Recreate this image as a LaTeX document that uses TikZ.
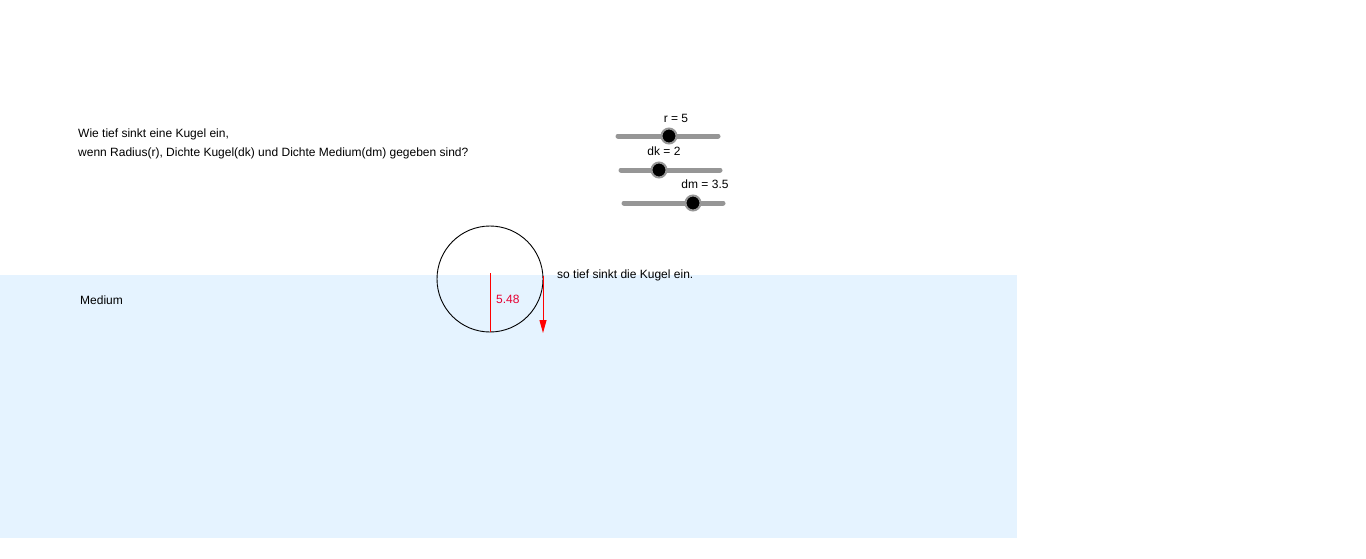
\documentclass[tikz,border=0pt]{standalone}
\usepackage{fontspec}
\setmainfont{Liberation Sans}
\usetikzlibrary{arrows.meta}
\definecolor{water}{RGB}{229,243,255}
\definecolor{track}{RGB}{150,150,150}
\definecolor{redl}{RGB}{255,0,0}
\definecolor{lbl}{RGB}{230,0,50}
\tikzset{
  txt/.style={font=\fontsize{12}{14}\selectfont, inner sep=0pt},
  track/.style={draw=track, line width=5pt, line cap=round},
  knob/.style={circle, fill=black, draw=track, line width=2pt, minimum size=15pt, inner sep=0pt}
}
\begin{document}
\begin{tikzpicture}[x=1pt,y=-1pt]
\useasboundingbox (0,0) rectangle (1366,558);
\fill[water] (0,275) rectangle (1017,538);
\node[txt, anchor=base west] (q1) at (78,137) {Wie tief sinkt eine Kugel ein,};
\node[txt, anchor=base west] (q2) at (78,156) {wenn Radius(r), Dichte Kugel(dk) und Dichte Medium(dm) gegeben sind?};
\node[txt, anchor=base west] (med) at (80,304) {Medium};
\node[txt, anchor=base west] (so) at (557,278) {so tief sinkt die Kugel ein.};
% sliders
\coordinate (a1) at (618,136); \coordinate (b1) at (718,136);
\coordinate (a2) at (621,170); \coordinate (b2) at (720,170);
\coordinate (a3) at (624,203); \coordinate (b3) at (723,203);
\draw[track] (a1) -- (b1);
\draw[track] (a2) -- (b2);
\draw[track] (a3) -- (b3);
\node[knob] (k1) at (669,136) {};
\node[knob] (k2) at (659,170) {};
\node[knob] (k3) at (693,203) {};
\node[txt, anchor=base] (l1) at (676,122) {r = 5};
\node[txt, anchor=base] (l2) at (664,155) {dk = 2};
\node[txt, anchor=base] (l3) at (705,188) {dm = 3.5};
% sphere
\node[circle, draw=black, line width=0.9pt, minimum size=106pt, inner sep=0pt] (c) at (490,279) {};
\coordinate (t) at (490,273); \coordinate (bt) at (490,332);
\draw[redl, line width=1pt] (t) -- (bt);
\node[txt, text=lbl, anchor=base west] (v) at (496,303) {5.48};
\coordinate (at) at (543,276); \coordinate (ab) at (543,333);
\draw[redl, line width=1pt, -{Triangle[length=13pt,width=7pt]}] (at) -- (ab);
\end{tikzpicture}
\end{document}
